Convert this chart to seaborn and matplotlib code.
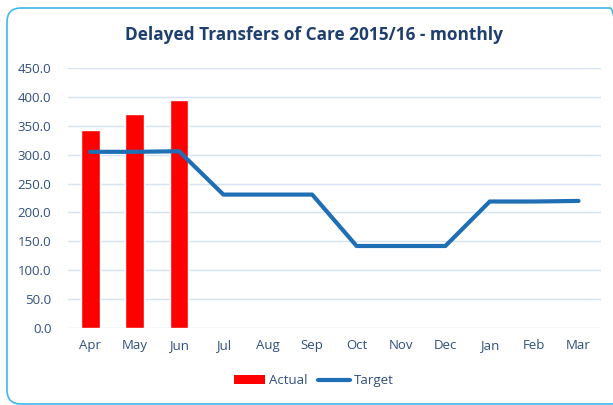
import matplotlib
matplotlib.use("Agg")
import matplotlib.pyplot as plt
import matplotlib.transforms as mtransforms
import seaborn as sns
import pandas as pd
from matplotlib.patches import FancyBboxPatch
from matplotlib.lines import Line2D
from matplotlib.patches import Patch

months = ["Apr", "May", "Jun", "Jul", "Aug", "Sep", "Oct", "Nov", "Dec", "Jan", "Feb", "Mar"]
actual = [342, 370, 394]
target = [305, 305, 306, 231, 231, 231, 142, 142, 142, 219, 219, 220]

sns.set_theme(style="white")
plt.rcParams['font.family'] = ['Open Sans', 'DejaVu Sans']

text_col = "#2F4F7F"
fig = plt.figure(figsize=(6.13, 4.05), dpi=100)
ax = fig.add_axes([0.111, 0.19, 0.869, 0.642])

df_a = pd.DataFrame({"month": months[:len(actual)], "value": actual})
sns.barplot(data=df_a, x="month", y="value", order=months, color="#FF0000",
            width=0.42, ax=ax, saturation=1)
ax.plot(range(len(months)), target, color="#1F6FB5", lw=3, solid_capstyle="round",
        solid_joinstyle="round", zorder=4)

ax.set_xlim(-0.5, len(months) - 0.5)
ax.set_ylim(0, 450)
ax.set_yticks(range(0, 451, 50))
ax.set_yticklabels([f"{v:.1f}" for v in range(0, 451, 50)])
ax.set_xlabel("")
ax.set_ylabel("")
ax.grid(axis="y", color="#D6E3F3", lw=1)
ax.set_axisbelow(True)
for s in ax.spines.values():
    s.set_visible(False)
ax.tick_params(axis="both", colors=text_col, labelsize=9.5, length=0)
ax.tick_params(axis="x", pad=8)
ax.tick_params(axis="y", pad=12)

fig.text(0.512, 0.913, "Delayed Transfers of Care 2015/16 - monthly", ha="center", va="center",
         fontsize=12.4, fontweight="bold", color="#1F3F6F")

handles = [Patch(facecolor="#FF0000", edgecolor="none"),
           Line2D([0], [0], color="#1F6FB5", lw=3, solid_capstyle="round")]
fig.legend(handles, ["Actual", "Target"], loc="center", bbox_to_anchor=(0.512, 0.06),
           ncol=2, frameon=False, fontsize=9.5, labelcolor=text_col,
           handlelength=2.4, handleheight=0.7, columnspacing=0.8, handletextpad=0.3)

border = FancyBboxPatch((7, 1), 617, 396, boxstyle="round,pad=0,rounding_size=14",
                        transform=mtransforms.IdentityTransform(), facecolor="none",
                        edgecolor="#3FB8EE", lw=1.2)
fig.patches.append(border)

fig.savefig("out.png", dpi=100)
